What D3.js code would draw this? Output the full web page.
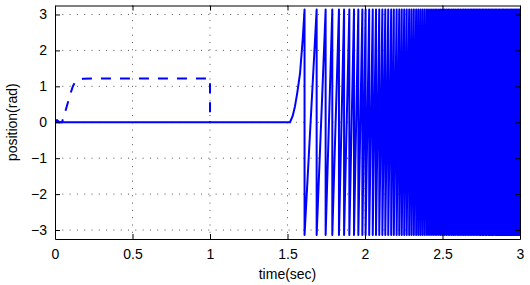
<!DOCTYPE html>
<html>
<head>
<meta charset="utf-8">
<script src="https://cdn.jsdelivr.net/npm/d3@7"></script>
<style>
body { margin: 0; background: #fff; }
text { font-family: "Liberation Sans", Arial, sans-serif; }
</style>
</head>
<body>
<div id="chart"></div>
<script>
var width = 530
var height = 285
var margin = {left: 55, right: 10, top: 5.5, bottom: 46}

// tick values and labels
var xTicks = [0, 0.5, 1, 1.5, 2, 2.5, 3]
var xTickLabels = ["0", "0.5", "1", "1.5", "2", "2.5", "3"]
var yTicks = [-3, -2, -1, 0, 1, 2, 3]
var yTickLabels = ["\u22123", "\u22122", "\u22121", "0", "1", "2", "3"]

// dashed series (reference position)
var refT = [0, 0.045, 0.06, 0.08, 0.1, 0.115, 0.13, 0.15, 0.18, 0.25, 1.0, 1.0]
var refV = [0, 0, 0.2, 0.5, 0.8, 1.0, 1.12, 1.18, 1.21, 1.22, 1.22, 0]

// solid series before first wrap
var posT = [0, 0.012, 0.03, 1.516, 1.533, 1.548, 1.563, 1.581, 1.598]
var posV = [0, 0.06, 0, 0, 0.17, 0.44, 0.82, 1.37, 2.3]

// times where the angle wraps from +pi to -pi (read / estimated from picture)
var wrapTimes = [1.61, 1.688, 1.746, 1.789, 1.832, 1.865, 1.899, 1.929, 1.957, 1.983,
  2.004, 2.027, 2.050, 2.071, 2.092, 2.112, 2.131, 2.150, 2.169, 2.186,
  2.204, 2.221, 2.237, 2.253, 2.269, 2.285, 2.300, 2.315, 2.330, 2.344,
  2.358, 2.372, 2.386, 2.400, 2.413, 2.426, 2.439, 2.452, 2.464, 2.477,
  2.489, 2.501, 2.513, 2.525, 2.537, 2.548, 2.560, 2.571, 2.582, 2.594,
  2.604, 2.615, 2.626, 2.637, 2.647, 2.658, 2.668, 2.679, 2.689, 2.699,
  2.709, 2.719, 2.729, 2.739, 2.748, 2.758, 2.767, 2.777, 2.786, 2.796,
  2.805, 2.814, 2.823, 2.832, 2.842, 2.850, 2.859, 2.868, 2.877, 2.886,
  2.894, 2.903, 2.912, 2.920, 2.929, 2.937, 2.945, 2.954, 2.962, 2.970,
  2.979, 2.987, 2.995, 3.003]
var wrapLevel = 3.14

const svg = d3.select("#chart")
    .append("svg")
    .attr("width", width)
    .attr("height", height)

var x = d3.scaleLinear().domain([0, 3]).range([margin.left, width - margin.right])
var y = d3.scaleLinear().domain([-3.25, 3.25]).range([height - margin.bottom, margin.top])

svg.append("clipPath").attr("id", "clip")
    .append("rect")
    .attr("x", x(0)).attr("y", y(3.25))
    .attr("width", x(3) - x(0)).attr("height", y(-3.25) - y(3.25))

// grid
var grid = svg.append("g")
grid.selectAll(".gx").data(xTicks.slice(1, -1)).enter()
    .append("line")
    .attr("x1", d => x(d)).attr("x2", d => x(d))
    .attr("y1", y(3.25)).attr("y2", y(-3.25))
grid.selectAll(".gy").data(yTicks).enter()
    .append("line")
    .attr("y1", d => y(d)).attr("y2", d => y(d))
    .attr("x1", x(0)).attr("x2", x(3))
grid.selectAll("line")
    .style("stroke", "#555")
    .style("stroke-width", "1px")
    .style("stroke-dasharray", "1,6.3")

// build point lists
var refPts = refT.map((t, i) => [t, refV[i]])
var posPts = posT.map((t, i) => [t, posV[i]])
wrapTimes.forEach(function (t) {
    posPts.push([t, wrapLevel])
    posPts.push([t, -wrapLevel])
})

var line = d3.line().x(d => x(d[0])).y(d => y(d[1]))

var plot = svg.append("g").attr("clip-path", "url(#clip)")
plot.append("path")
    .attr("d", line(refPts))
    .style("fill", "none")
    .style("stroke", "#0000ff")
    .style("stroke-width", "2px")
    .style("stroke-dasharray", "10,9")
plot.append("path")
    .attr("d", line(posPts))
    .style("fill", "none")
    .style("stroke", "#0000ff")
    .style("stroke-width", "2px")
    .style("stroke-linejoin", "round")

// axes (ticks inside, box on)
svg.append("g")
    .attr("transform", "translate(0," + y(-3.25) + ")")
    .call(d3.axisBottom(x).tickValues(xTicks).tickFormat((d, i) => xTickLabels[i])
        .tickSizeInner(-5).tickSizeOuter(0).tickPadding(10))
svg.append("g")
    .attr("transform", "translate(0," + y(3.25) + ")")
    .call(d3.axisTop(x).tickValues(xTicks).tickFormat("")
        .tickSizeInner(-5).tickSizeOuter(0))
svg.append("g")
    .attr("transform", "translate(" + x(0) + ",0)")
    .call(d3.axisLeft(y).tickValues(yTicks).tickFormat((d, i) => yTickLabels[i])
        .tickSizeInner(-5).tickSizeOuter(0).tickPadding(8))
svg.append("g")
    .attr("transform", "translate(" + x(3) + ",0)")
    .call(d3.axisRight(y).tickValues(yTicks).tickFormat("")
        .tickSizeInner(-5).tickSizeOuter(0))

svg.selectAll(".domain").style("stroke", "#000").style("stroke-width", "1px")
svg.selectAll(".tick line").style("stroke", "#000")
svg.selectAll(".tick text")
    .style("font-size", "14px")
    .style("font-family", "'Liberation Sans', Arial, sans-serif")
    .style("fill", "#000")

// axis labels
svg.append("text")
    .attr("x", (x(0) + x(3)) / 2)
    .attr("y", 279)
    .attr("text-anchor", "middle")
    .style("font-size", "14px")
    .text("time(sec)")
svg.append("text")
    .attr("transform", "translate(17," + (y(0)) + ") rotate(-90)")
    .attr("text-anchor", "middle")
    .style("font-size", "14px")
    .text("position(rad)")
</script>
</body>
</html>
